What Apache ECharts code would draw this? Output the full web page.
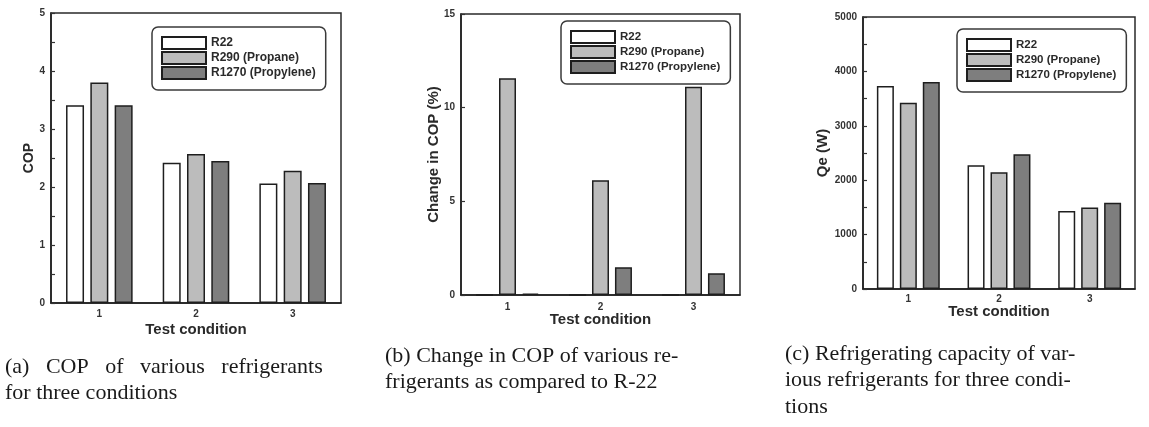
<!DOCTYPE html>
<html>
<head>
<meta charset="utf-8">
<script src="https://cdn.jsdelivr.net/npm/echarts@6/dist/echarts.min.js"></script>
<style>
html,body{margin:0;padding:0;background:#fff;}
#chart{width:1149px;height:427px;}
</style>
</head>
<body>
<div id="chart"></div>
<script>
// ---- data ----
const categories = ['1', '2', '3'];
const seriesNames = ['R22', 'R290 (Propane)', 'R1270 (Propylene)'];
const copR22 = [3.41, 2.42, 2.06];
const copR290 = [3.80, 2.57, 2.28];
const copR1270 = [3.41, 2.45, 2.07];
const changeR22 = [0, 0, 0];
const changeR290 = [11.57, 6.12, 11.12];
const changeR1270 = [0.08, 1.48, 1.16];
const qeR22 = [3730, 2275, 1435];
const qeR290 = [3425, 2145, 1500];
const qeR1270 = [3805, 2475, 1585];
const captionA = ['(a)   COP   of   various   refrigerants', 'for three conditions'];
const captionB = ['(b) Change in COP of various re-', 'frigerants as compared to R-22'];
const captionC = ['(c) Refrigerating capacity of var-', 'ious refrigerants for three condi-', 'tions'];

// ---- styles ----
const fills = ['#ffffff', '#bcbcbc', '#7e7e7e'];
const edge = '#1e1e1e';
const sans = '"Liberation Sans", Arial, sans-serif';

const panels = [
  {grid: {left: 51, top: 13, width: 290, height: 290}, y: {max: 5, interval: 1, minor: true}, yName: 'COP', yGap: 15, yNameSize: 14, xLabelMargin: 6, xGap: 19, barW: 18, data: [copR22, copR290, copR1270], legend: {left: 152, top: 27}, legendFont: 12},
  {grid: {left: 461, top: 14, width: 279, height: 281}, y: {max: 15, interval: 5, minor: false}, yName: 'Change in COP (%)', yGap: 20, yNameSize: 15, xLabelMargin: 7, xGap: 17, barW: 17, data: [changeR22, changeR290, changeR1270], legend: {left: 561, top: 21}, legendFont: 11.5},
  {grid: {left: 863, top: 17, width: 272, height: 272}, y: {max: 5000, interval: 1000, minor: true}, yName: 'Qe (W)', yGap: 33, yNameSize: 15, xLabelMargin: 5, xGap: 15, barW: 17, data: [qeR22, qeR290, qeR1270], legend: {left: 957, top: 29}, legendFont: 11.5}
];

const grid = [], xAxis = [], yAxis = [], series = [], legend = [];
panels.forEach((p, i) => {
  grid.push(Object.assign({show: true, borderColor: '#2a2a2a', borderWidth: 1.5, backgroundColor: 'transparent'}, p.grid));
  xAxis.push({
    type: 'category', gridIndex: i, data: categories,
    name: 'Test condition', nameLocation: 'middle', nameGap: p.xGap, nameMoveOverlap: false,
    nameTextStyle: {fontFamily: sans, fontWeight: 'bold', fontSize: 15, color: '#2a2a2a'},
    axisLine: {lineStyle: {color: '#1e1e1e', width: 1.5}},
    axisTick: {show: false},
    axisLabel: {fontFamily: sans, fontWeight: 'bold', fontSize: 10, color: '#333', margin: p.xLabelMargin},
    splitLine: {show: false}
  });
  yAxis.push({
    type: 'value', gridIndex: i, min: 0, max: p.y.max, interval: p.y.interval,
    name: p.yName, nameLocation: 'middle', nameGap: p.yGap, nameRotate: 90, nameMoveOverlap: false,
    nameTextStyle: {fontFamily: sans, fontWeight: 'bold', fontSize: p.yNameSize, color: '#2a2a2a'},
    axisLine: {show: true, lineStyle: {color: '#1e1e1e', width: 1.5}},
    axisTick: {show: true, inside: true, length: 4, lineStyle: {color: '#333', width: 1.2}},
    minorTick: {show: p.y.minor, splitNumber: 2, length: 4, lineStyle: {color: '#333', width: 1.2}},
    axisLabel: {fontFamily: sans, fontWeight: 'bold', fontSize: 10, color: '#333', margin: 6, formatter: v => String(v)},
    splitLine: {show: false}
  });
  seriesNames.forEach((name, k) => {
    series.push({
      type: 'bar', name: name, xAxisIndex: i, yAxisIndex: i,
      data: p.data[k], barWidth: p.barW, barGap: '35%',
      itemStyle: {color: fills[k], borderColor: edge, borderWidth: 1.5},
      emphasis: {disabled: true}, animation: false
    });
  });
  legend.push({
    orient: 'vertical', left: p.legend.left, top: p.legend.top,
    data: seriesNames, icon: 'rect', itemWidth: 44, itemHeight: 12, itemGap: 1,
    padding: [9, 10, 10, 9], borderColor: '#3a3a3a', borderWidth: 1.5, borderRadius: 6,
    textStyle: {fontFamily: sans, fontWeight: 'bold', fontSize: p.legendFont, lineHeight: 12, color: '#2a2a2a'},
    selectedMode: false
  });
});

function captionLines(lines, x, y0) {
  return lines.map((t, j) => ({
    type: 'text', left: x, top: y0 + j * 26.5,
    style: {text: t, font: '22px "Liberation Serif", "Times New Roman", serif', fill: '#1a1a1a'}
  }));
}
const graphic = [].concat(
  captionLines(captionA, 5, 356),
  captionLines(captionB, 385, 345),
  captionLines(captionC, 785, 343)
);

const chart = echarts.init(document.getElementById('chart'), null, {renderer: 'canvas'});
chart.setOption({animation: false, grid, xAxis, yAxis, series, legend, graphic});
</script>
</body>
</html>
